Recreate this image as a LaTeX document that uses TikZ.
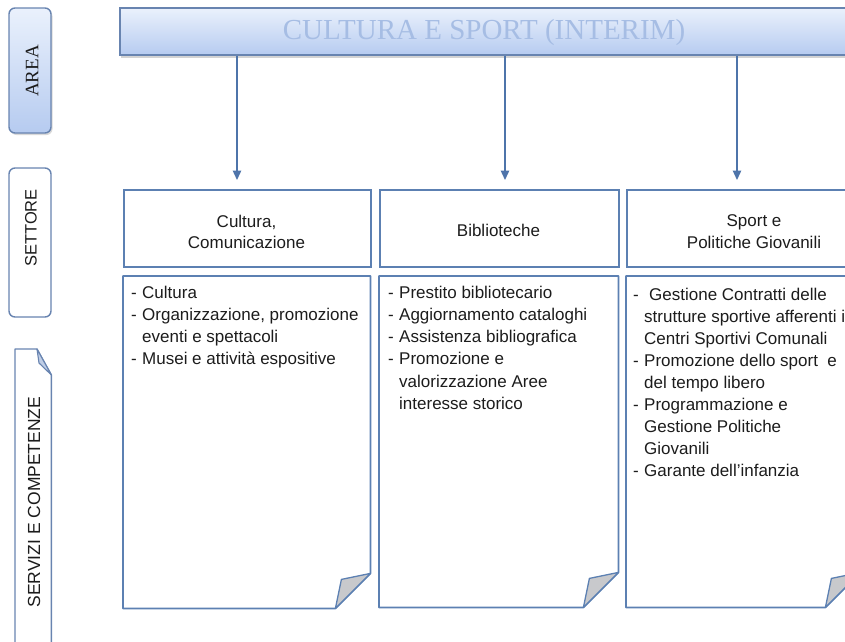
\documentclass[tikz,border=0pt]{standalone}
\usepackage{fontspec}
\setmainfont{Liberation Sans}
\newfontfamily\serifft{Liberation Serif}
\usetikzlibrary{arrows.meta,shadows,calc}
\definecolor{bline}{RGB}{92,128,178}
\definecolor{sline}{RGB}{104,132,176}
\definecolor{arrowc}{RGB}{78,116,170}
\definecolor{titlec}{RGB}{166,189,228}
\definecolor{bantop}{RGB}{234,241,252}
\definecolor{banbot}{RGB}{182,203,240}
\definecolor{flapc}{RGB}{200,201,204}
\definecolor{flapb}{RGB}{192,206,230}
\definecolor{txt}{RGB}{28,28,28}
\newcommand{\dsh}{\strut\makebox[11pt][l]{-}}
\newcommand{\cnt}{\strut\hspace*{11pt}}
\begin{document}
\begin{tikzpicture}[x=1pt,y=-1pt,
  boxline/.style={draw=bline,line width=1.8pt},
  hdrbox/.style={boxline,rectangle,inner sep=0,anchor=north west,minimum height=77pt},
  framebox/.style={rectangle,inner sep=0,anchor=north west},
  htext/.style={align=center,font=\fontsize{17}{20.5}\selectfont,text=txt,inner sep=0},
  ltext/.style={align=left,font=\fontsize{17}{22.2}\selectfont,text=txt,inner sep=0,anchor=north west},
  arr/.style={draw=arrowc,line width=1.3pt,-{Triangle[width=8.5pt,length=9.5pt]},shorten >=9pt},
  flap/.style={fill=flapc,draw=bline,line width=1.3pt,line join=round},
  sidebox/.style={draw=sline,line width=1.4pt,rectangle,rounded corners=6pt,inner sep=0,minimum width=42pt},
  sidetext/.style={rotate=90,inner sep=0,text=txt},
]
\useasboundingbox (0,0) rectangle (845,641);
\clip (0,0) rectangle (845,641);

% ---- left legend
\node[sidebox,minimum height=125pt,top color=bantop,bottom color=banbot,
  drop shadow={shadow xshift=1.5pt,shadow yshift=-2pt,opacity=0.3}] (area) at (30,70.5) {};
\node[sidetext,font=\serifft\fontsize{19}{19}\selectfont] (areat) at (32,71) {AREA};

\node[sidebox,minimum height=149pt,fill=white] (sett) at (30,242.5) {};
\node[sidetext,font=\fontsize{16.5}{16.5}\selectfont] (settt) at (31,228) {SETTORE};

\node[framebox,minimum width=36pt,minimum height=311pt] (serv) at (15,349) {};
\draw[draw=sline,line width=1.4pt,line join=round]
  (serv.south west) -- (serv.north west) -- ($(serv.north west)+(22,0)$)
  -- ($(serv.north east)+(0,26)$) -- (serv.south east);
\draw[fill=flapb,draw=sline,line width=1.1pt,line join=round]
  ($(serv.north west)+(22,0)$) -- ($(serv.north west)+(24,14)$) -- ($(serv.north east)+(0,26)$) -- cycle;
\node[sidetext,font=\fontsize{17.5}{17.5}\selectfont] (servt) at (34,502) {SERVIZI E COMPETENZE};

% ---- banner
\node[rectangle,inner sep=0,minimum width=780pt,minimum height=47pt,
  top color=bantop,bottom color=banbot,draw=sline,line width=1.4pt,
  drop shadow={shadow xshift=1pt,shadow yshift=-2.5pt,opacity=0.35}] (ban) at (510,31.5) {};
\node[inner sep=0,text=titlec,font=\serifft\fontsize{29}{29}\selectfont] (bant) at (484,33) {CULTURA E SPORT (INTERIM)};

% ---- headers
\node[hdrbox,minimum width=247pt] (h1) at (123,189) {};
\node[hdrbox,minimum width=239pt] (h2) at (379,189) {};
\node[hdrbox,minimum width=256pt] (h3) at (626,189) {};
\node[htext] (h1t) at (246.5,232) {Cultura,\\Comunicazione};
\node[htext] (h2t) at (498.5,230) {Biblioteche};
\node[htext,font=\fontsize{17}{22}\selectfont] (h3t) at (754,232) {Sport e\\Politiche Giovanili};

% ---- arrows
\coordinate (ax1) at (237,0);
\coordinate (ax2) at (505,0);
\coordinate (ax3) at (737,0);
\draw[arr] (ban.south -| ax1) -- (h1.north -| ax1);
\draw[arr] (ban.south -| ax2) -- (h2.north -| ax2);
\draw[arr] (ban.south -| ax3) -- (h3.north -| ax3);

% ---- content boxes with folded corner
\newcommand{\foldbox}[1]{%
  \draw[boxline,line join=round] (#1.north west) -- (#1.north east) -- ($(#1.south east)+(0,-35)$)
    -- ($(#1.south east)+(-35,0)$) -- (#1.south west) -- cycle;
  \draw[flap] ($(#1.south east)+(0,-35)$) -- ($(#1.south east)+(-29,-29)$) -- ($(#1.south east)+(-35,0)$) -- cycle;}
\node[framebox,minimum width=247pt,minimum height=332pt] (c1) at (123,276) {};
\node[framebox,minimum width=239pt,minimum height=331pt] (c2) at (379,276) {};
\node[framebox,minimum width=234pt,minimum height=331pt] (c3) at (626,276) {};
\foldbox{c1}
\foldbox{c2}
\foldbox{c3}

\node[ltext] (c1t) at (131,282.5) {\dsh Cultura\\ \dsh Organizzazione, promozione\\ \cnt eventi e spettacoli\\ \dsh Musei e attività espositive};
\node[ltext] (c2t) at (388,282.5) {\dsh Prestito bibliotecario\\ \dsh Aggiornamento cataloghi\\ \dsh Assistenza bibliografica\\ \dsh Promozione e\\ \cnt valorizzazione Aree\\ \cnt interesse storico};
\node[ltext,font=\fontsize{17}{22}\selectfont] (c3t) at (633,284.5) {\dsh\hspace{5pt}Gestione Contratti delle\\ \cnt strutture sportive afferenti i\\ \cnt Centri Sportivi Comunali\\ \dsh Promozione dello sport\ \ e\\ \cnt del tempo libero\\ \dsh Programmazione e\\ \cnt Gestione Politiche\\ \cnt Giovanili\\ \dsh Garante dell’infanzia};
\end{tikzpicture}
\end{document}
